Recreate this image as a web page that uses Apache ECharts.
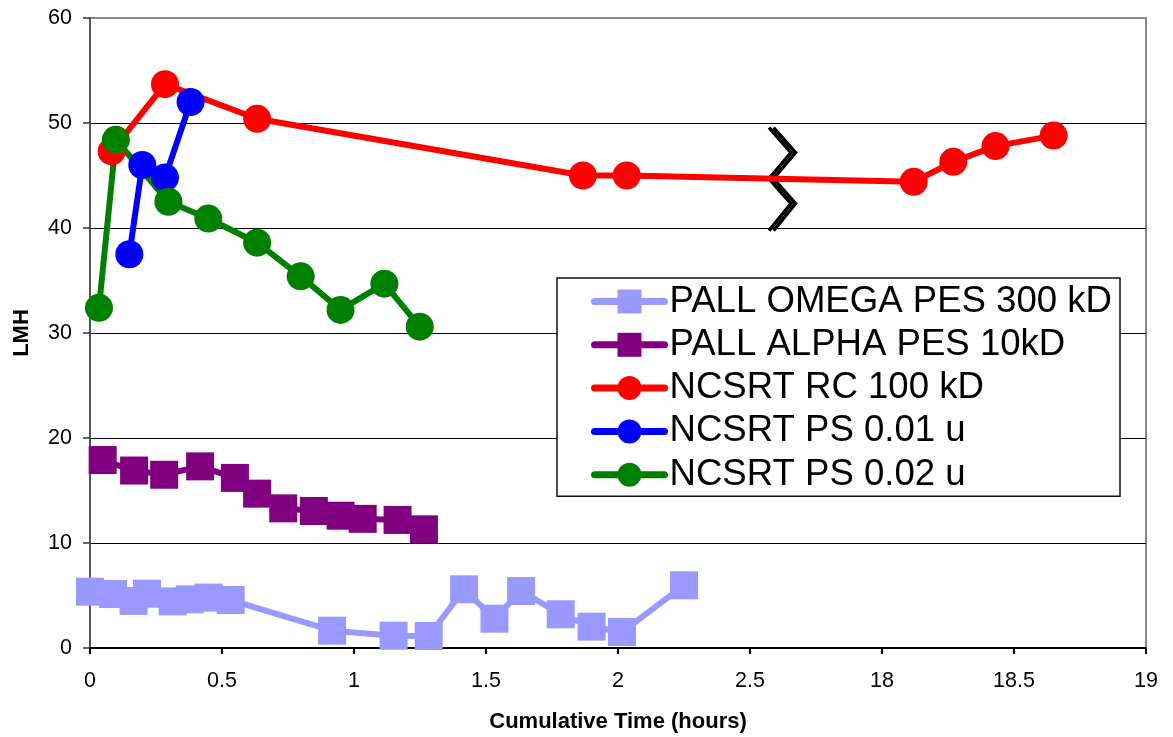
<!DOCTYPE html>
<html>
<head>
<meta charset="utf-8">
<script src="https://cdn.jsdelivr.net/npm/echarts@6/dist/echarts.min.js"></script>
<style>
html,body{margin:0;padding:0;background:#fff;}
#chart{width:1173px;height:737px;}
</style>
</head>
<body>
<div id="chart"></div>
<script>
// ---- data (hours, LMH) ----
const seriesNames = ['PALL OMEGA PES 300 kD', 'PALL ALPHA PES 10kD', 'NCSRT RC 100 kD', 'NCSRT PS 0.01 u', 'NCSRT PS 0.02 u'];

const omegaX = [0.00, 0.087, 0.165, 0.216, 0.313, 0.378, 0.449, 0.533, 0.917, 1.150, 1.283, 1.417, 1.532, 1.633, 1.783, 1.900, 2.015, 2.25];
const omegaY = [5.36, 5.14, 4.48, 5.17, 4.44, 4.63, 4.80, 4.57, 1.65, 1.17, 1.14, 5.59, 2.79, 5.43, 3.21, 2.03, 1.52, 5.97];

const alphaX = [0.048, 0.167, 0.281, 0.417, 0.549, 0.633, 0.732, 0.848, 0.949, 1.033, 1.165, 1.265];
const alphaY = [17.9, 16.9, 16.5, 17.3, 16.2, 14.7, 13.3, 13.05, 12.6, 12.3, 12.2, 11.3];

const rcX = [0.082, 0.284, 0.633, 1.867, 2.033, 18.12, 18.27, 18.43, 18.65];
const rcY = [47.3, 53.7, 50.4, 45.0, 45.0, 44.4, 46.3, 47.8, 48.8];

const ps01X = [0.149, 0.198, 0.284, 0.381];
const ps01Y = [37.5, 46.0, 44.8, 52.0];

const ps02X = [0.034, 0.098, 0.297, 0.448, 0.633, 0.798, 0.949, 1.115, 1.249];
const ps02Y = [32.4, 48.4, 42.5, 40.9, 38.6, 35.4, 32.2, 34.7, 30.6];

const xTickLabels = ['0', '0.5', '1', '1.5', '2', '2.5', '18', '18.5', '19'];
const yMin = 0, yMax = 60, yStep = 10;

// axis break: hours between BREAK_FROM and BREAK_TO are hidden
const BREAK_FROM = 2.75, BREAK_TO = 17.75;
const breakMarkHour = 2.572;

function toAxis(h) { return h <= BREAK_FROM ? h : h - (BREAK_TO - BREAK_FROM); }
function pairs(xs, ys) { return xs.map((x, i) => [toAxis(x), ys[i]]); }

// y of the red line where the break mark sits
function redAt(h) {
  const ax = toAxis(h);
  const pts = pairs(rcX, rcY);
  for (let i = 0; i < pts.length - 1; i++) {
    if (ax >= pts[i][0] && ax <= pts[i + 1][0]) {
      const t = (ax - pts[i][0]) / (pts[i + 1][0] - pts[i][0]);
      return pts[i][1] + t * (pts[i + 1][1] - pts[i][1]);
    }
  }
  return pts[0][1];
}

const colors = ['#9999FF', '#800080', '#FF0000', '#0000FF', '#008000'];
const symbols = ['rect', 'rect', 'circle', 'circle', 'circle'];
const dataSets = [pairs(omegaX, omegaY), pairs(alphaX, alphaY), pairs(rcX, rcY), pairs(ps01X, ps01Y), pairs(ps02X, ps02Y)];

const FONT = "'Liberation Sans', Arial, Helvetica, sans-serif";

const lineSeries = seriesNames.map((name, i) => ({
  name: name,
  type: 'line',
  data: dataSets[i],
  symbol: symbols[i],
  symbolSize: 28,
  showSymbol: true,
  clip: false,
  lineStyle: { width: 6, color: colors[i] },
  itemStyle: { color: colors[i] },
  emphasis: { disabled: true },
  animation: false
}));

const breakSeries = {
  type: 'custom',
  silent: true,
  animation: false,
  clip: false,
  data: [[toAxis(breakMarkHour), redAt(breakMarkHour)]],
  renderItem: function (params, api) {
    const p = api.coord([api.value(0), api.value(1)]);
    const zig = [[0, -51], [22, -26], [0, 0], [22, 25], [0, 52]];
    const mk = dx => ({
      type: 'polyline',
      shape: { points: zig.map(s => [p[0] + s[0] + dx, p[1] + s[1]]) },
      style: { stroke: '#000', lineWidth: 3.5, fill: null }
    });
    return { type: 'group', children: [mk(0), mk(4.5)] };
  }
};

const chart = echarts.init(document.getElementById('chart'), null, { renderer: 'canvas' });
chart.setOption({
  backgroundColor: '#fff',
  animation: false,
  textStyle: { fontFamily: FONT },
  grid: {
    left: 90, right: 27, top: 18, bottom: 89,
    show: true, borderColor: '#888', borderWidth: 2, backgroundColor: 'transparent',
    containLabel: false, outerBoundsMode: 'none'
  },
  xAxis: {
    type: 'value',
    min: 0, max: 4, interval: 0.5,
    name: 'Cumulative Time (hours)',
    nameLocation: 'middle',
    nameGap: 63,
    nameTextStyle: { fontFamily: FONT, fontSize: 22, fontWeight: 'bold', color: '#000' },
    axisLine: { show: true, onZero: false, lineStyle: { color: '#000', width: 2 } },
    axisTick: { show: true, inside: false, length: 6, lineStyle: { color: '#000', width: 2 } },
    axisLabel: {
      margin: 22, fontFamily: FONT, fontSize: 21.5, color: '#000',
      formatter: v => xTickLabels[Math.round(v / 0.5)]
    },
    splitLine: { show: false }
  },
  yAxis: {
    type: 'value',
    min: yMin, max: yMax, interval: yStep,
    name: 'LMH',
    nameLocation: 'middle',
    nameRotate: 90,
    nameGap: 57,
    nameTextStyle: { fontFamily: FONT, fontSize: 22, fontWeight: 'bold', color: '#000' },
    axisLine: { show: true, lineStyle: { color: '#555', width: 2 } },
    axisTick: { show: true, inside: false, length: 7, lineStyle: { color: '#333', width: 1.5 } },
    axisLabel: { margin: 18, fontFamily: FONT, fontSize: 21.5, color: '#000' },
    splitLine: { show: true, showMinLine: false, showMaxLine: false, lineStyle: { color: '#000', width: 1 } }
  },
  legend: {
    data: seriesNames,
    orient: 'vertical',
    left: 557, top: 278,
    padding: [5, 8, 3, 34],
    itemGap: 6.3,
    itemWidth: 70,
    itemHeight: 30,
    selectedMode: false,
    backgroundColor: '#fff',
    borderColor: '#111',
    borderWidth: 1.5,
    borderRadius: 0,
    lineStyle: { width: 7, cap: 'round' },
    textStyle: { fontFamily: FONT, fontSize: 36.6, lineHeight: 36, color: '#000' }
  },
  series: lineSeries.concat([breakSeries])
});
</script>
</body>
</html>
